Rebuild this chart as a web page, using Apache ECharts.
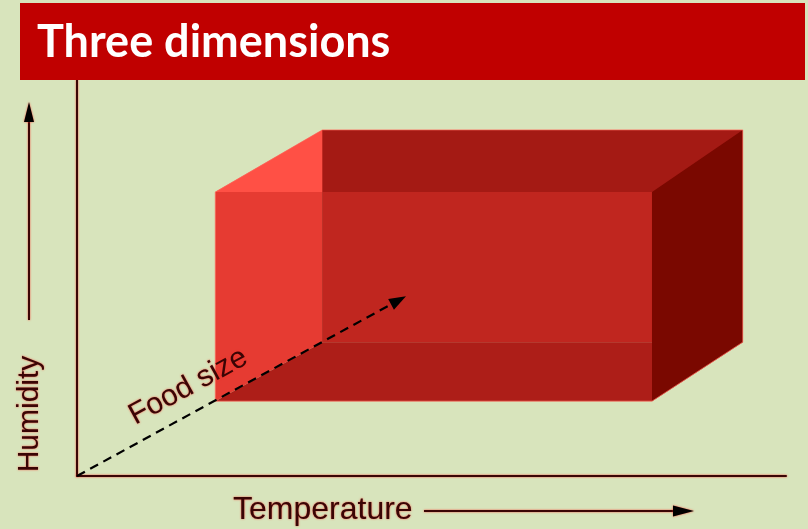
<!DOCTYPE html>
<html>
<head>
<meta charset="utf-8">
<script src="https://cdn.jsdelivr.net/npm/echarts@6/dist/echarts.min.js"></script>
<style>
html,body{margin:0;padding:0;background:#D8E4BC;}
#chart{width:808px;height:529px;}
</style>
</head>
<body>
<div id="chart"></div>
<script>
// ---- data (in axis units: Temperature 0-100, Humidity 0-100) ----
const titleText = 'Three dimensions';
const axisNames = ['Temperature', 'Humidity', 'Food size'];
const frontTemp = [19.5, 81.1];   // front face temperature extent
const frontHum  = [18.9, 71.7];   // front face humidity extent
const backTemp  = [34.6, 93.9];   // back face temperature extent
const backHum   = [33.8, 87.4];   // back face humidity extent
const foodSizeArrow = [[0, 0], [46.4, 45.4]]; // food size axis (start, end)

const faceColors = {
  top: '#FF5045', left: '#E63B32', bottom: '#AD1E18',
  back: '#A41A14', inner: '#C0261F', right: '#7A0800'
};

const chart = echarts.init(document.getElementById('chart'), null, {renderer: 'canvas'});

const axisLineStyle = {color: '#3a0505', width: 2, shadowColor: 'rgba(255,50,40,0.9)', shadowBlur: 2};
const labelFont = {fontFamily: 'Liberation Sans', fontSize: 30, fill: '#3a0505',
  textShadowColor: 'rgba(255,50,40,0.8)', textShadowBlur: 2};

function renderBox(params, api) {
  const c = (x, y) => api.coord([x, y]);
  const FTL = c(frontTemp[0], frontHum[1]), FTR = c(frontTemp[1], frontHum[1]);
  const FBL = c(frontTemp[0], frontHum[0]), FBR = c(frontTemp[1], frontHum[0]);
  const BTL = c(backTemp[0], backHum[1]), BTR = c(backTemp[1], backHum[1]);
  const BBL = c(backTemp[0], backHum[0]), BBR = c(backTemp[1], backHum[0]);
  const INTL = c(backTemp[0], frontHum[1]), INTR = c(frontTemp[1], frontHum[1]);
  const INBR = c(frontTemp[1], backHum[0]), INBL = c(backTemp[0], backHum[0]);
  const poly = (pts, fill) => ({type: 'polygon', shape: {points: pts}, style: {fill: fill}, silent: true});

  // food size dashed arrow
  const p0 = c(foodSizeArrow[0][0], foodSizeArrow[0][1]);
  const p1 = c(foodSizeArrow[1][0], foodSizeArrow[1][1]);
  const dx = p1[0] - p0[0], dy = p1[1] - p0[1];
  const len = Math.sqrt(dx * dx + dy * dy);
  const ux = dx / len, uy = dy / len;
  const nx = uy, ny = -ux; // normal pointing up-left
  const headLen = 17, headW = 6;
  const hb = [p1[0] - ux * headLen, p1[1] - uy * headLen];
  const angle = Math.atan2(-dy, dx);
  const t = 0.375, off = 25;
  const tp = [p0[0] + dx * t + nx * off, p0[1] + dy * t + ny * off];

  return {
    type: 'group',
    children: [
      poly([FTL, BTL, BBL, FBL], faceColors.left),
      poly([FTL, BTL, BTR, FTR], faceColors.top),
      poly([FBL, BBL, BBR, FBR], faceColors.bottom),
      poly([BTL, BTR, BBR, BBL], faceColors.back),
      poly([INTL, INTR, INBR, INBL], faceColors.inner),
      poly([FTR, BTR, BBR, FBR], faceColors.right),
      {type: 'polygon', shape: {points: [FTL, BTL, BTR, BBR, FBR, FBL]},
        style: {fill: null, stroke: 'rgba(255,110,95,0.7)', lineWidth: 1}, silent: true},
      {type: 'line', shape: {x1: p0[0], y1: p0[1], x2: hb[0] + ux * 2, y2: hb[1] + uy * 2},
        style: {stroke: '#000', lineWidth: 2.2, lineDash: [9, 6]}, silent: true},
      poly([p1, [hb[0] + nx * headW, hb[1] + ny * headW], [hb[0] - nx * headW, hb[1] - ny * headW]], '#000'),
      {type: 'text', x: tp[0], y: tp[1], rotation: angle,
        style: Object.assign({text: axisNames[2], align: 'center', verticalAlign: 'middle'}, labelFont), silent: true}
    ]
  };
}

const option = {
  backgroundColor: '#D8E4BC',
  animation: false,
  grid: {left: 77, top: 80, width: 709, height: 396},
  xAxis: {type: 'value', min: 0, max: 100, axisLine: {show: true, lineStyle: axisLineStyle},
    axisTick: {show: false}, axisLabel: {show: false}, splitLine: {show: false}},
  yAxis: {type: 'value', min: 0, max: 100, axisLine: {show: true, lineStyle: axisLineStyle},
    axisTick: {show: false}, axisLabel: {show: false}, splitLine: {show: false}},
  series: [{
    type: 'custom',
    coordinateSystem: 'cartesian2d',
    data: [[0, 0]],
    renderItem: renderBox,
    z: 1
  }],
  graphic: [
    {type: 'rect', left: 20, top: 3, shape: {width: 785, height: 77}, style: {fill: '#C00000'}, z: 10},
    {type: 'text', x: 37, y: 42, style: {text: titleText, fill: '#FFFFFF', fontFamily: 'Lato',
      fontWeight: 'bold', fontSize: 45, verticalAlign: 'middle'}, z: 11},
    // Humidity label and arrow
    {type: 'text', x: 30, y: 414, rotation: Math.PI / 2,
      style: Object.assign({text: axisNames[1], align: 'center', verticalAlign: 'middle'}, labelFont), z: 5},
    {type: 'line', shape: {x1: 29, y1: 320, x2: 29, y2: 118},
      style: {stroke: '#3a0505', lineWidth: 2, shadowColor: 'rgba(255,50,40,0.9)', shadowBlur: 2}, z: 5},
    {type: 'polygon', shape: {points: [[29, 102], [24, 122], [34, 122]]},
      style: {fill: '#000', shadowColor: 'rgba(255,50,40,0.9)', shadowBlur: 2}, z: 5},
    // Temperature label and arrow
    {type: 'text', x: 233, y: 510,
      style: Object.assign({text: axisNames[0], align: 'left', verticalAlign: 'middle'}, labelFont, {fontSize: 32}), z: 5},
    {type: 'line', shape: {x1: 424, y1: 511, x2: 676, y2: 511},
      style: {stroke: '#3a0505', lineWidth: 2, shadowColor: 'rgba(255,50,40,0.9)', shadowBlur: 2}, z: 5},
    {type: 'polygon', shape: {points: [[694, 511], [673, 505.5], [673, 516.5]]},
      style: {fill: '#000', shadowColor: 'rgba(255,50,40,0.9)', shadowBlur: 2}, z: 5}
  ]
};
chart.setOption(option);
</script>
</body>
</html>
